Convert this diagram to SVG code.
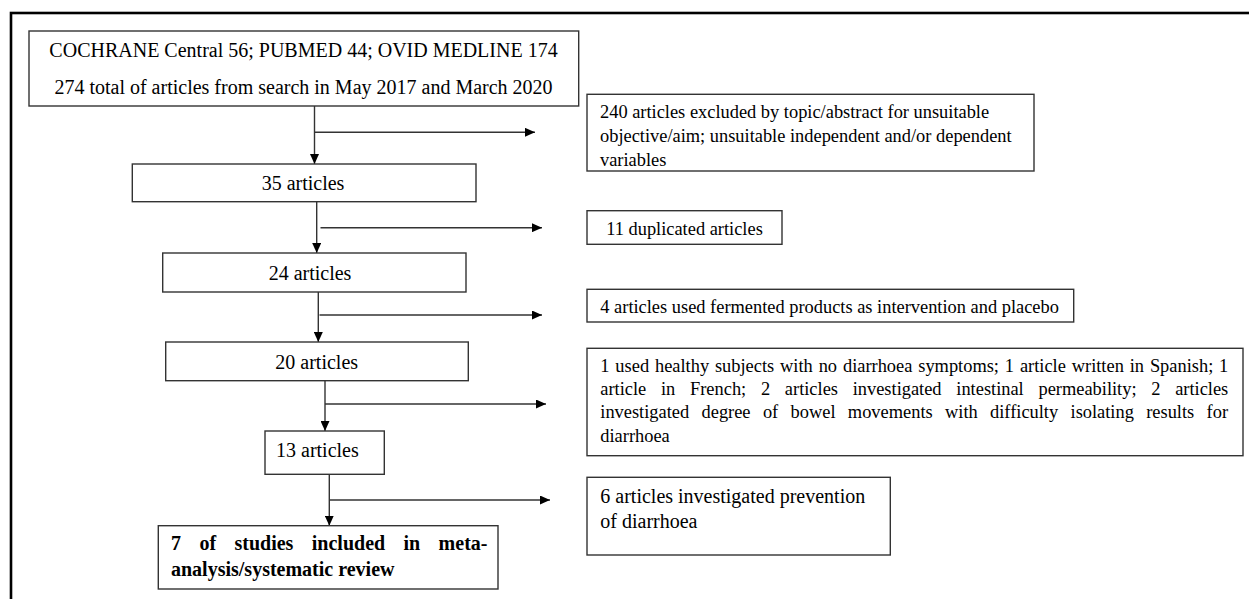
<svg xmlns="http://www.w3.org/2000/svg" width="1249" height="599" viewBox="0 0 1249 599">
<style>
  .box { fill: #fff; stroke: #333; stroke-width: 1.4; }
  .t20 { font-family: "Liberation Serif", "Times New Roman", serif; font-size: 20px; fill: #000; }
  .t18 { font-family: "Liberation Serif", "Times New Roman", serif; font-size: 18.4px; fill: #000; }
  .b20 { font-family: "Liberation Serif", "Times New Roman", serif; font-size: 20px; font-weight: bold; fill: #000; }
  .c { text-anchor: middle; }
  .conn { stroke: #333; stroke-width: 1.4; fill: none; marker-end: url(#arr); }
</style>
<defs>
  <marker id="arr" markerUnits="userSpaceOnUse" markerWidth="10" markerHeight="9" refX="10" refY="4.5" orient="auto">
    <path d="M0,0 L10,4.5 L0,9 z" fill="#000"/>
  </marker>
</defs>
<rect x="0" y="0" width="1249" height="599" fill="#fff"/>
<rect id="frame" x="11" y="13" width="1300" height="700" fill="none" stroke="#000" stroke-width="2.6"/>

<g id="connectors">
  <line class="conn" x1="314.5" y1="106" x2="314.5" y2="164"/>
  <line class="conn" x1="314.5" y1="132.3" x2="535" y2="132.3"/>
  <line class="conn" x1="316.7" y1="201.7" x2="316.7" y2="253"/>
  <line class="conn" x1="320.5" y1="227.7" x2="542" y2="227.7"/>
  <line class="conn" x1="318.3" y1="292" x2="318.3" y2="342"/>
  <line class="conn" x1="319.5" y1="315" x2="542" y2="315"/>
  <line class="conn" x1="325" y1="380.7" x2="325" y2="431"/>
  <line class="conn" x1="325" y1="404" x2="546" y2="404"/>
  <line class="conn" x1="329.3" y1="474.3" x2="329.3" y2="525.7"/>
  <line class="conn" x1="329.3" y1="500" x2="550" y2="500"/>
</g>

<g id="n-search">
  <rect class="box" x="29" y="31" width="549.7" height="75"/>
  <text class="t20 c" x="303.5" y="57.3">COCHRANE Central 56; PUBMED 44; OVID MEDLINE 174</text>
  <text class="t20 c" x="303.5" y="94.3">274 total of articles from search in May 2017 and March 2020</text>
</g>

<g id="n-excl240">
  <rect class="box" x="587" y="94.3" width="447" height="76.7"/>
  <text class="t18" x="600" y="118.3">240 articles excluded by topic/abstract for unsuitable</text>
  <text class="t18" x="600" y="142">objective/aim; unsuitable independent and/or dependent</text>
  <text class="t18" x="600" y="165.5">variables</text>
</g>

<g id="n-35">
  <rect class="box" x="132.3" y="164" width="343.7" height="37.7"/>
  <text class="t20 c" x="303" y="190">35 articles</text>
</g>

<g id="n-dup11">
  <rect class="box" x="587" y="210.7" width="195" height="33.6"/>
  <text class="t18 c" x="684.5" y="235">11 duplicated articles</text>
</g>

<g id="n-24">
  <rect class="box" x="162.7" y="253" width="303.3" height="39"/>
  <text class="t20 c" x="310" y="280">24 articles</text>
</g>

<g id="n-ferm4">
  <rect class="box" x="587" y="289.3" width="486.7" height="32.7"/>
  <text class="t18" x="600.3" y="313.3">4 articles used fermented products as intervention and placebo</text>
</g>

<g id="n-20">
  <rect class="box" x="165.7" y="342" width="302.6" height="38.7"/>
  <text class="t20 c" x="316.7" y="369.3">20 articles</text>
</g>

<g id="n-excl-misc">
  <rect class="box" x="587" y="348.3" width="656" height="107.4"/>
  <text class="t18" x="600.3" y="371.7" word-spacing="1.28">1 used healthy subjects with no diarrhoea symptoms; 1 article written in Spanish; 1</text>
  <text class="t18" x="600.3" y="395" word-spacing="10.14">article in French; 2 articles investigated intestinal permeability; 2 articles</text>
  <text class="t18" x="600.3" y="418.3" word-spacing="7.76">investigated degree of bowel movements with difficulty isolating results for</text>
  <text class="t18" x="600.3" y="441.7">diarrhoea</text>
</g>

<g id="n-13">
  <rect class="box" x="265" y="431" width="119.3" height="43.3"/>
  <text class="t20" x="276" y="456.7">13 articles</text>
</g>

<g id="n-prev6">
  <rect class="box" x="587" y="477.3" width="303.3" height="77.7"/>
  <text class="t20" x="600.3" y="502.5">6 articles investigated prevention</text>
  <text class="t20" x="600.3" y="527.5">of diarrhoea</text>
</g>

<g id="n-7">
  <rect class="box" x="158.3" y="525.7" width="339.7" height="63.3"/>
  <text class="b20" x="171" y="550" word-spacing="13.4">7 of studies included in meta-</text>
  <text class="b20" x="171" y="576">analysis/systematic review</text>
</g>
</svg>
